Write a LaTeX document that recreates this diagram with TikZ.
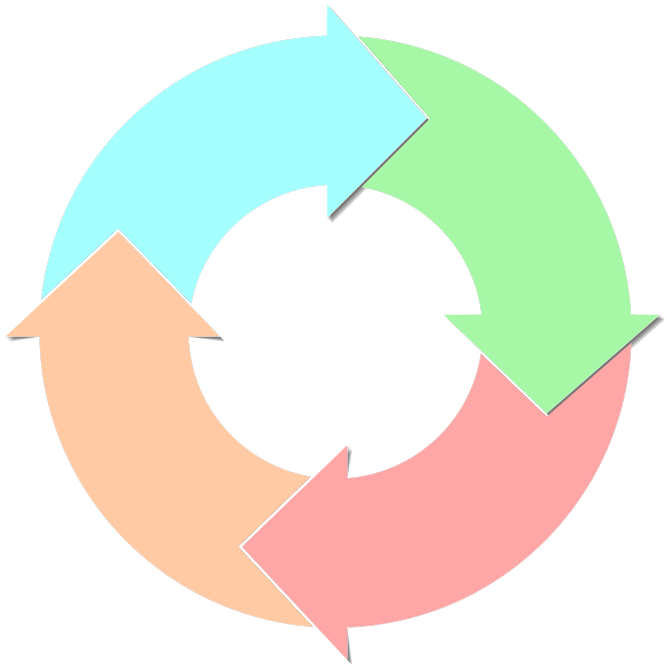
\documentclass[tikz,border=0pt]{standalone}
\usetikzlibrary{calc}
\definecolor{ccyan}{HTML}{A6FFFF}
\definecolor{cgreen}{HTML}{A6F8A6}
\definecolor{cred}{HTML}{FFA6A6}
\definecolor{cpeach}{HTML}{FFCAA4}
\tikzset{
  arrowfill/.style={fill=#1, draw=white, line width=0.5pt, draw opacity=0.6},
  shadowlayer/.style={fill=black, opacity=0.15}
}
\def\gf{1.06}
% arrow outlines (screen coordinates, y downwards)
\def\cyanpath{($(O)+(180:296)$) arc[start angle=180,end angle=268.35,radius=296] -- (327,4) -- (426.7,118.3) -- (327,218) -- ($(O)+(266.69:147)$) arc[start angle=266.69,end angle=180,radius=147] -- cycle}
\def\greenpath{($(O)+(270:296)$) arc[start angle=270,end angle=356.67,radius=296] -- (660,314.5) -- (546.7,413.3) -- (443.3,314.5) -- ($(O)+(353.28:147)$) arc[start angle=353.28,end angle=270,radius=147] -- cycle}
\def\redpath{($(O)+(0:296)$) arc[start angle=0,end angle=87.72,radius=296] -- (347.3,660) -- (241.7,546.7) -- (347.3,445) -- ($(O)+(85.40:147)$) arc[start angle=85.40,end angle=0,radius=147] -- cycle}
\def\peachpath{($(O)+(90:296)$) arc[start angle=90,end angle=179.03,radius=296] -- (5,336.7) -- (118.3,231.7) -- (220,336.7) -- ($(O)+(178.05:147)$) arc[start angle=178.05,end angle=90,radius=147] -- cycle}
% tails cut by the (slightly enlarged) head of the previous arrow
\def\cyanclip{(-60,-60) rectangle (730,730) ($(116.65,292.9)!\gf!(5,336.7)$) -- ($(116.65,292.9)!\gf!(118.3,231.7)$) -- ($(116.65,292.9)!\gf!(220,336.7)$) -- cycle}
\def\greenclip{(-60,-60) rectangle (730,730) ($(369.1,116.3)!\gf!(327,4)$) -- ($(369.1,116.3)!\gf!(426.7,118.3)$) -- ($(369.1,116.3)!\gf!(327,218)$) -- cycle}
\def\redclip{(-60,-60) rectangle (730,730) ($(548.0,356.5)!\gf!(660,314.5)$) -- ($(548.0,356.5)!\gf!(546.7,413.3)$) -- ($(548.0,356.5)!\gf!(443.3,314.5)$) -- cycle}
\def\peachclip{(-60,-60) rectangle (730,730) ($(303.3,548.4)!\gf!(347.3,660)$) -- ($(303.3,548.4)!\gf!(241.7,546.7)$) -- ($(303.3,548.4)!\gf!(347.3,445)$) -- cycle}
\newcommand\arrowshadow[2]{%
  \begin{scope}[even odd rule]
    \clip #2;
    \foreach \d in {1,2,3,4,5}{\fill[shadowlayer, shift={(\d,\d)}] #1;}
  \end{scope}}
\newcommand\arrowbody[3]{%
  \begin{scope}[even odd rule]
    \clip #2;
    \path[arrowfill=#3] #1;
  \end{scope}}
\begin{document}
\begin{tikzpicture}[x=1pt,y=-1pt]
\useasboundingbox (0,0) rectangle (667,668);
\coordinate (O) at (335.5,331.7);
% shadows first
\arrowshadow{\cyanpath}{\cyanclip}
\arrowshadow{\greenpath}{\greenclip}
\arrowshadow{\redpath}{\redclip}
\arrowshadow{\peachpath}{\peachclip}
% coloured arrows
\arrowbody{\cyanpath}{\cyanclip}{ccyan}
\arrowbody{\greenpath}{\greenclip}{cgreen}
\arrowbody{\redpath}{\redclip}{cred}
\arrowbody{\peachpath}{\peachclip}{cpeach}
\end{tikzpicture}
\end{document}
